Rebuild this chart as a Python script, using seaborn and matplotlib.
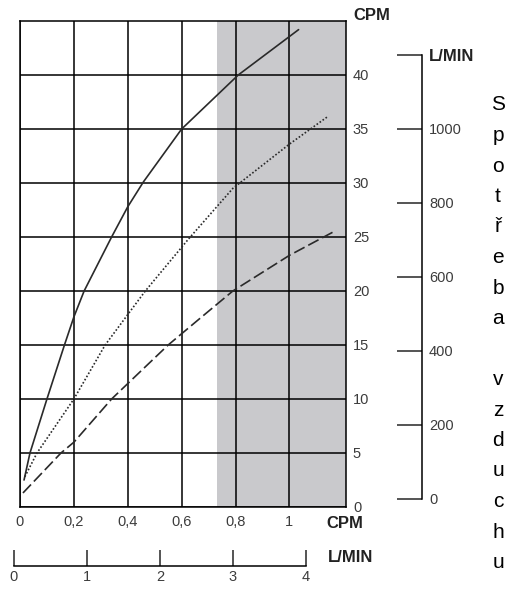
import numpy as np
import pandas as pd
import seaborn as sns
import matplotlib
matplotlib.use("Agg")
import matplotlib.pyplot as plt

# ----------------------------
# DATA
# ----------------------------
solid_x = [0.015, 0.037, 0.10, 0.165, 0.20, 0.238, 0.34, 0.40, 0.458, 0.60, 0.81, 1.034]
solid_y = [2.5, 5.0, 10.0, 15.0, 17.6, 20.0, 25.0, 27.8, 30.1, 35.0, 40.0, 44.2]

dotted_x = [0.018, 0.063, 0.20, 0.316, 0.465, 0.625, 0.79, 1.0, 1.145]
dotted_y = [2.8, 5.0, 10.0, 15.0, 20.0, 24.8, 29.5, 33.6, 36.2]

dashed_x = [0.011, 0.152, 0.20, 0.34, 0.55, 0.66, 0.79, 1.0, 1.165]
dashed_y = [1.3, 5.0, 6.0, 10.0, 15.0, 17.3, 20.0, 23.3, 25.5]

cpm_x_ticks = [0, 0.2, 0.4, 0.6, 0.8, 1.0]
cpm_x_labels = ["0", "0,2", "0,4", "0,6", "0,8", "1"]
cpm_y_ticks = [0, 5, 10, 15, 20, 25, 30, 35, 40]
lmin_y_ticks = [0, 200, 400, 600, 800, 1000, 1200]
lmin_y_labels = ["0", "200", "400", "600", "800", "1000", "L/MIN"]
lmin_x_ticks = [0, 1, 2, 3, 4]
shade_start = 0.73
side_text = "Spotřeba vzduchu"

# ----------------------------
# STYLE
# ----------------------------
sns.set_style("white")
plt.rcParams["font.family"] = ["Liberation Sans", "DejaVu Sans"]

W, H = 512, 592
fig = plt.figure(figsize=(W / 100, H / 100), dpi=100)

def fx(px):
    return px / W

def fy(py):
    return 1 - py / H

tick_color = "#3c3c3c"
line_color = "#2a2a2a"

# ----------------------------
# MAIN CHART
# ----------------------------
ax = fig.add_axes([fx(20), fy(507), fx(346) - fx(20), fy(21) - fy(507)])
ax.set_xlim(0, 1.21)
ax.set_ylim(0, 45)
ax.axvspan(shade_start, 1.21, color="#c9c9cc", zorder=0, lw=0)

curves = pd.concat([
    pd.DataFrame({"x": solid_x, "y": solid_y, "typ": "a"}),
    pd.DataFrame({"x": dotted_x, "y": dotted_y, "typ": "b"}),
    pd.DataFrame({"x": dashed_x, "y": dashed_y, "typ": "c"}),
])
styles = {"a": "-", "b": (0, (1, 1.2)), "c": (0, (7, 2.5))}
for typ, grp in curves.groupby("typ"):
    sns.lineplot(data=grp, x="x", y="y", ax=ax, color=line_color,
                 linewidth=1.2, linestyle=styles[typ], zorder=3)

ax.set_xticks(cpm_x_ticks)
ax.set_xticklabels(cpm_x_labels)
ax.set_yticks(cpm_y_ticks)
ax.yaxis.tick_right()
ax.tick_params(length=0, labelsize=10.5, labelcolor=tick_color)
ax.tick_params(axis="x", pad=6)
ax.tick_params(axis="y", pad=5)
ax.grid(True, color="black", linewidth=1.1, zorder=2)
ax.set_axisbelow(False)
for s in ax.spines.values():
    s.set_visible(True)
    s.set_color("black")
    s.set_linewidth(1.1)
ax.set_xlabel("")
ax.set_ylabel("")

bold = dict(fontweight="bold", fontsize=12, color="#222222")
fig.text(fx(372), fy(15), "CPM", ha="center", va="center", **bold)
fig.text(fx(326), fy(524), "CPM", ha="left", va="center", **bold)

# ----------------------------
# RIGHT L/MIN SCALE
# ----------------------------
ax2 = fig.add_axes([fx(382), fy(499), fx(422) - fx(382), fy(55) - fy(499)])
ax2.set_facecolor("none")
ax2.set_ylim(0, 1200)
ax2.set_xticks([])
for side in ["left", "top", "bottom"]:
    ax2.spines[side].set_visible(False)
ax2.spines["right"].set_color("black")
ax2.spines["right"].set_linewidth(1.1)
ax2.yaxis.tick_right()
ax2.set_yticks(lmin_y_ticks)
ax2.set_yticklabels(lmin_y_labels)
ax2.tick_params(axis="y", direction="in", length=18, width=1.1, pad=5,
                labelsize=10.5, labelcolor=tick_color)
top_lbl = ax2.get_yticklabels()[-1]
top_lbl.set_fontweight("bold")
top_lbl.set_fontsize(12)
top_lbl.set_color("#222222")

# ----------------------------
# BOTTOM L/MIN SCALE
# ----------------------------
ax3 = fig.add_axes([fx(14), fy(566), fx(306) - fx(14), 0.04])
ax3.set_facecolor("none")
ax3.set_xlim(0, 4)
ax3.set_yticks([])
for side in ["left", "top", "right"]:
    ax3.spines[side].set_visible(False)
ax3.spines["bottom"].set_color("black")
ax3.spines["bottom"].set_linewidth(1.1)
ax3.set_xticks(lmin_x_ticks)
ax3.tick_params(axis="x", bottom=True, direction="in", length=11.5, width=1.1,
                pad=3, labelsize=10.5, labelcolor=tick_color)
fig.text(fx(328), fy(558), "L/MIN", ha="left", va="center", **bold)

# ----------------------------
# VERTICAL SIDE TEXT
# ----------------------------
for i, ch in enumerate(side_text):
    fig.text(fx(498), fy(105 + i * 30.5), ch, ha="center", va="center",
             fontsize=15, color="black")

fig.savefig("out.png", dpi=100)
